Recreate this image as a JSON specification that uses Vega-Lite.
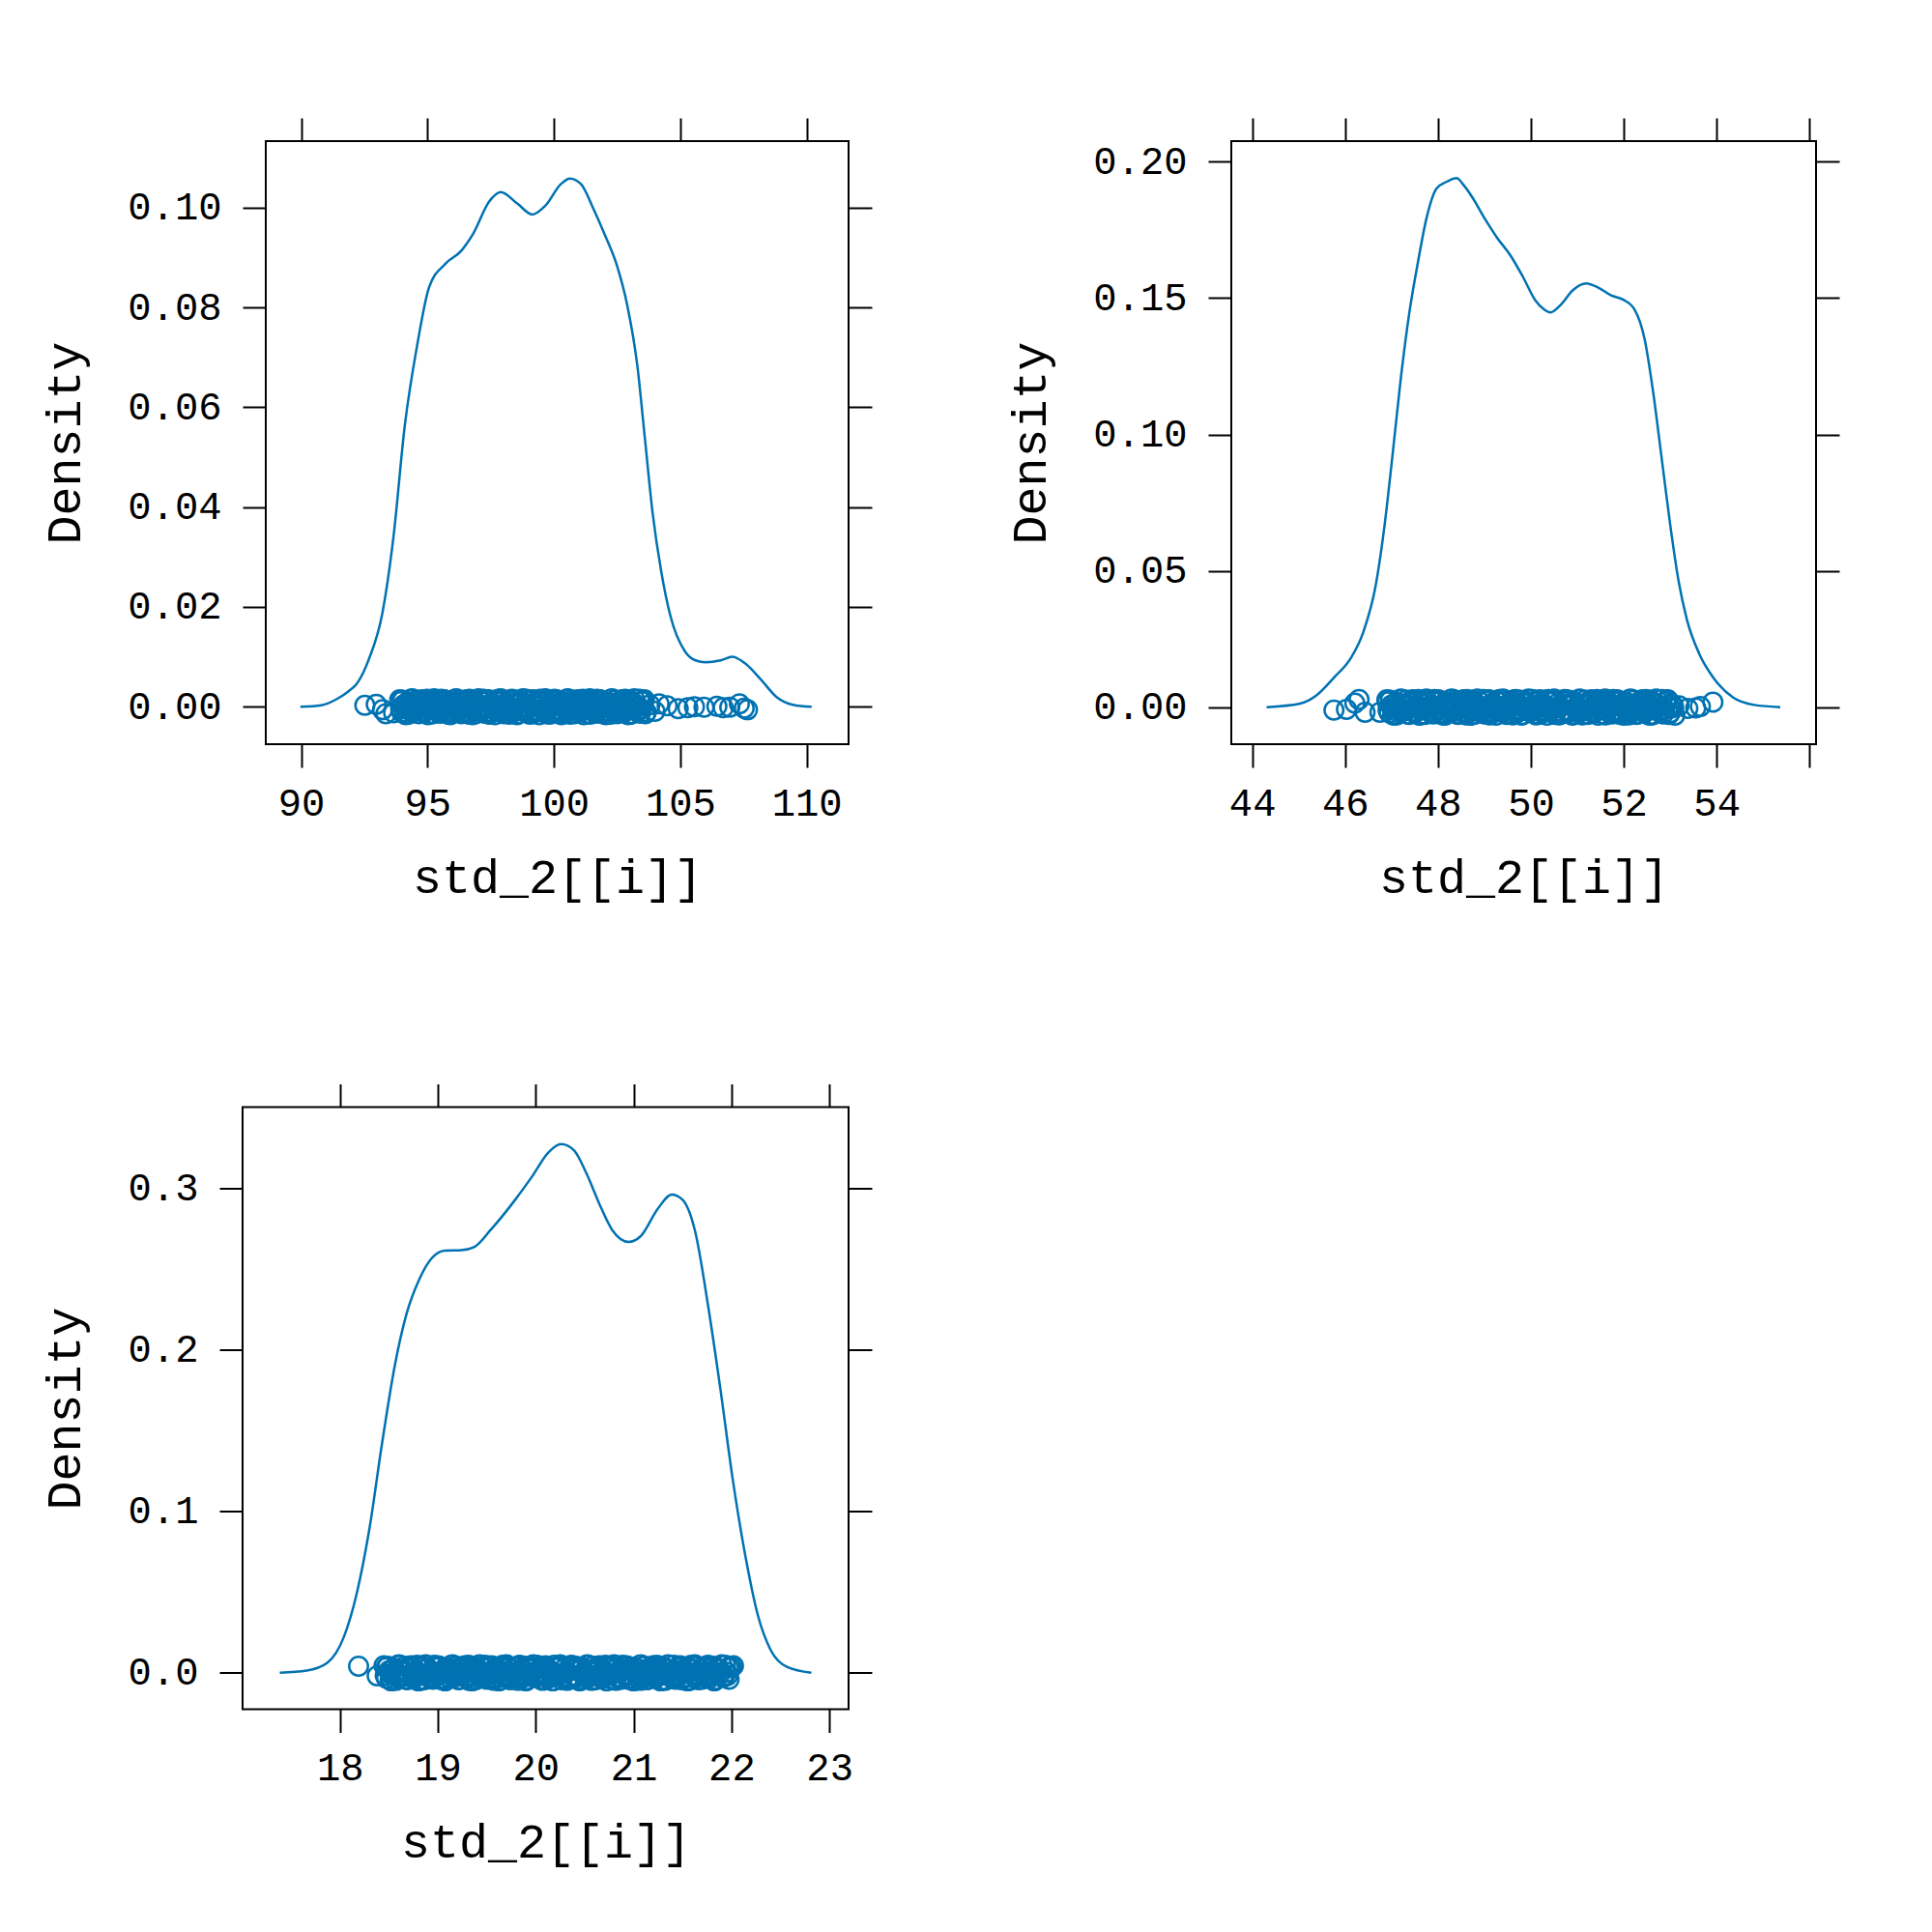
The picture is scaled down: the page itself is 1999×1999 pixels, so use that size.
{
  "$schema": "https://vega.github.io/schema/vega-lite/v6.json",
  "background": "white",
  "padding": {"left": 40, "top": 120, "right": 30, "bottom": 30},
  "config": {
    "view": {"stroke": "black", "strokeWidth": 2},
    "font": "Liberation Mono",
    "axis": {
      "domain": false, "grid": false, "tickColor": "black", "tickWidth": 2, "tickSize": 24,
      "labelFont": "Liberation Mono", "labelFontSize": 40.5, "labelColor": "black",
      "labelFlush": false, "labelOverlap": false, "labelBound": false,
      "titleFont": "Liberation Mono", "titleFontSize": 50, "titleFontWeight": "normal", "titleColor": "black"
    },
    "axisX": {"labelPadding": 17},
    "axisY": {"labelPadding": 22}
  },
  "datasets": {
    "d1": [
      {"x":89.97,"y":0},{"x":90.8,"y":0.0003},{"x":91.43,"y":0.0016},{"x":91.9,"y":0.0032},{"x":92.2,"y":0.0046},{"x":92.7,"y":0.0098},{"x":93.2,"y":0.0184},{"x":93.65,"y":0.0339},{"x":94.1,"y":0.0563},{"x":94.6,"y":0.0727},{"x":95.06,"y":0.084},{"x":95.7,"y":0.0887},{"x":96.33,"y":0.0913},{"x":96.8,"y":0.0947},{"x":97.44,"y":0.1012},{"x":97.9,"y":0.1031},{"x":98.55,"y":0.1008},{"x":99.15,"y":0.0986},{"x":99.65,"y":0.1003},{"x":100.28,"y":0.1047},{"x":100.63,"y":0.1058},{"x":101.07,"y":0.1047},{"x":101.55,"y":0.0999},{"x":102.0,"y":0.0947},{"x":102.5,"y":0.0883},{"x":102.9,"y":0.0805},{"x":103.3,"y":0.0684},{"x":103.6,"y":0.0538},{"x":103.9,"y":0.0391},{"x":104.25,"y":0.027},{"x":104.6,"y":0.0184},{"x":105.2,"y":0.011},{"x":105.6,"y":0.0093},{"x":106.0,"y":0.0089},{"x":106.6,"y":0.0093},{"x":107.06,"y":0.01},{"x":107.56,"y":0.0087},{"x":108.2,"y":0.0054},{"x":108.8,"y":0.002},{"x":109.46,"y":0.0004},{"x":110.2,"y":0}
    ],
    "r1": [
      {"x":92.52,"y":0.0003},{"x":92.97,"y":0.0005},{"x":93.22,"y":-0.0006},{"x":93.35,"y":-0.0014},{"x":93.66,"y":-0.0012},
      {"x":93.90,"y":0.0014},{"x":93.98,"y":-0.0011},{"x":94.06,"y":0.0004},{"x":94.14,"y":-0.0016},{"x":94.22,"y":0.0009},{"x":94.30,"y":-0.0004},{"x":94.38,"y":0.0016},{"x":94.46,"y":-0.0008},{"x":94.54,"y":0.0001},{"x":94.62,"y":-0.0013},{"x":94.70,"y":0.0011},
      {"x":94.78,"y":0.0014},{"x":94.86,"y":-0.0011},{"x":94.94,"y":0.0004},{"x":95.02,"y":-0.0016},{"x":95.10,"y":0.0009},{"x":95.18,"y":-0.0004},{"x":95.26,"y":0.0016},{"x":95.34,"y":-0.0008},{"x":95.42,"y":0.0001},{"x":95.50,"y":-0.0013},{"x":95.58,"y":0.0011},
      {"x":95.66,"y":0.0014},{"x":95.74,"y":-0.0011},{"x":95.82,"y":0.0004},{"x":95.90,"y":-0.0016},{"x":95.98,"y":0.0009},{"x":96.06,"y":-0.0004},{"x":96.14,"y":0.0016},{"x":96.22,"y":-0.0008},{"x":96.30,"y":0.0001},{"x":96.38,"y":-0.0013},{"x":96.46,"y":0.0011},
      {"x":96.54,"y":0.0014},{"x":96.62,"y":-0.0011},{"x":96.70,"y":0.0004},{"x":96.78,"y":-0.0016},{"x":96.86,"y":0.0009},{"x":96.94,"y":-0.0004},{"x":97.02,"y":0.0016},{"x":97.10,"y":-0.0008},{"x":97.18,"y":0.0001},{"x":97.26,"y":-0.0013},{"x":97.34,"y":0.0011},
      {"x":97.42,"y":0.0014},{"x":97.50,"y":-0.0011},{"x":97.58,"y":0.0004},{"x":97.66,"y":-0.0016},{"x":97.74,"y":0.0009},{"x":97.82,"y":-0.0004},{"x":97.90,"y":0.0016},{"x":97.98,"y":-0.0008},{"x":98.06,"y":0.0001},{"x":98.14,"y":-0.0013},{"x":98.22,"y":0.0011},
      {"x":98.30,"y":0.0014},{"x":98.38,"y":-0.0011},{"x":98.46,"y":0.0004},{"x":98.54,"y":-0.0016},{"x":98.62,"y":0.0009},{"x":98.70,"y":-0.0004},{"x":98.78,"y":0.0016},{"x":98.86,"y":-0.0008},{"x":98.94,"y":0.0001},{"x":99.02,"y":-0.0013},{"x":99.10,"y":0.0011},
      {"x":99.18,"y":0.0014},{"x":99.26,"y":-0.0011},{"x":99.34,"y":0.0004},{"x":99.42,"y":-0.0016},{"x":99.50,"y":0.0009},{"x":99.58,"y":-0.0004},{"x":99.66,"y":0.0016},{"x":99.74,"y":-0.0008},{"x":99.82,"y":0.0001},{"x":99.90,"y":-0.0013},{"x":99.98,"y":0.0011},
      {"x":100.06,"y":0.0014},{"x":100.14,"y":-0.0011},{"x":100.22,"y":0.0004},{"x":100.30,"y":-0.0016},{"x":100.38,"y":0.0009},{"x":100.46,"y":-0.0004},{"x":100.54,"y":0.0016},{"x":100.62,"y":-0.0008},{"x":100.70,"y":0.0001},{"x":100.78,"y":-0.0013},{"x":100.86,"y":0.0011},
      {"x":100.94,"y":0.0014},{"x":101.02,"y":-0.0011},{"x":101.10,"y":0.0004},{"x":101.18,"y":-0.0016},{"x":101.26,"y":0.0009},{"x":101.34,"y":-0.0004},{"x":101.42,"y":0.0016},{"x":101.50,"y":-0.0008},{"x":101.58,"y":0.0001},{"x":101.66,"y":-0.0013},{"x":101.74,"y":0.0011},
      {"x":101.82,"y":0.0014},{"x":101.90,"y":-0.0011},{"x":101.98,"y":0.0004},{"x":102.06,"y":-0.0016},{"x":102.14,"y":0.0009},{"x":102.22,"y":-0.0004},{"x":102.30,"y":0.0016},{"x":102.38,"y":-0.0008},{"x":102.46,"y":0.0001},{"x":102.54,"y":-0.0013},{"x":102.62,"y":0.0011},
      {"x":102.70,"y":0.0014},{"x":102.78,"y":-0.0011},{"x":102.86,"y":0.0004},{"x":102.94,"y":-0.0016},{"x":103.02,"y":0.0009},{"x":103.10,"y":-0.0004},{"x":103.18,"y":0.0016},{"x":103.26,"y":-0.0008},{"x":103.34,"y":0.0001},{"x":103.42,"y":-0.0013},{"x":103.50,"y":0.0011},
      {"x":103.58,"y":0.0014},{"x":103.66,"y":-0.0011},
      {"x":93.94,"y":-0.0005},{"x":94.02,"y":0.0013},{"x":94.10,"y":-0.0014},{"x":94.18,"y":0.0007},{"x":94.26,"y":0.0},{"x":94.34,"y":-0.0009},{"x":94.42,"y":0.0015},
      {"x":94.50,"y":-0.0005},{"x":94.58,"y":0.0013},{"x":94.66,"y":-0.0014},{"x":94.74,"y":0.0007},{"x":94.82,"y":0.0},{"x":94.90,"y":-0.0009},{"x":94.98,"y":0.0015},
      {"x":95.06,"y":-0.0005},{"x":95.14,"y":0.0013},{"x":95.22,"y":-0.0014},{"x":95.30,"y":0.0007},{"x":95.38,"y":0.0},{"x":95.46,"y":-0.0009},{"x":95.54,"y":0.0015},
      {"x":95.62,"y":-0.0005},{"x":95.70,"y":0.0013},{"x":95.78,"y":-0.0014},{"x":95.86,"y":0.0007},{"x":95.94,"y":0.0},{"x":96.02,"y":-0.0009},{"x":96.10,"y":0.0015},
      {"x":96.18,"y":-0.0005},{"x":96.26,"y":0.0013},{"x":96.34,"y":-0.0014},{"x":96.42,"y":0.0007},{"x":96.50,"y":0.0},{"x":96.58,"y":-0.0009},{"x":96.66,"y":0.0015},
      {"x":96.74,"y":-0.0005},{"x":96.82,"y":0.0013},{"x":96.90,"y":-0.0014},{"x":96.98,"y":0.0007},{"x":97.06,"y":0.0},{"x":97.14,"y":-0.0009},{"x":97.22,"y":0.0015},
      {"x":97.30,"y":-0.0005},{"x":97.38,"y":0.0013},{"x":97.46,"y":-0.0014},{"x":97.54,"y":0.0007},{"x":97.62,"y":0.0},{"x":97.70,"y":-0.0009},{"x":97.78,"y":0.0015},
      {"x":97.86,"y":-0.0005},{"x":97.94,"y":0.0013},{"x":98.02,"y":-0.0014},{"x":98.10,"y":0.0007},{"x":98.18,"y":0.0},{"x":98.26,"y":-0.0009},{"x":98.34,"y":0.0015},
      {"x":98.42,"y":-0.0005},{"x":98.50,"y":0.0013},{"x":98.58,"y":-0.0014},{"x":98.66,"y":0.0007},{"x":98.74,"y":0.0},{"x":98.82,"y":-0.0009},{"x":98.90,"y":0.0015},
      {"x":98.98,"y":-0.0005},{"x":99.06,"y":0.0013},{"x":99.14,"y":-0.0014},{"x":99.22,"y":0.0007},{"x":99.30,"y":0.0},{"x":99.38,"y":-0.0009},{"x":99.46,"y":0.0015},
      {"x":99.54,"y":-0.0005},{"x":99.62,"y":0.0013},{"x":99.70,"y":-0.0014},{"x":99.78,"y":0.0007},{"x":99.86,"y":0.0},{"x":99.94,"y":-0.0009},{"x":100.02,"y":0.0015},
      {"x":100.10,"y":-0.0005},{"x":100.18,"y":0.0013},{"x":100.26,"y":-0.0014},{"x":100.34,"y":0.0007},{"x":100.42,"y":0.0},{"x":100.50,"y":-0.0009},{"x":100.58,"y":0.0015},
      {"x":100.66,"y":-0.0005},{"x":100.74,"y":0.0013},{"x":100.82,"y":-0.0014},{"x":100.90,"y":0.0007},{"x":100.98,"y":0.0},{"x":101.06,"y":-0.0009},{"x":101.14,"y":0.0015},
      {"x":101.22,"y":-0.0005},{"x":101.30,"y":0.0013},{"x":101.38,"y":-0.0014},{"x":101.46,"y":0.0007},{"x":101.54,"y":0.0},{"x":101.62,"y":-0.0009},{"x":101.70,"y":0.0015},
      {"x":101.78,"y":-0.0005},{"x":101.86,"y":0.0013},{"x":101.94,"y":-0.0014},{"x":102.02,"y":0.0007},{"x":102.10,"y":0.0},{"x":102.18,"y":-0.0009},{"x":102.26,"y":0.0015},
      {"x":102.34,"y":-0.0005},{"x":102.42,"y":0.0013},{"x":102.50,"y":-0.0014},{"x":102.58,"y":0.0007},{"x":102.66,"y":0.0},{"x":102.74,"y":-0.0009},{"x":102.82,"y":0.0015},
      {"x":102.90,"y":-0.0005},{"x":102.98,"y":0.0013},{"x":103.06,"y":-0.0014},{"x":103.14,"y":0.0007},{"x":103.22,"y":0.0},{"x":103.30,"y":-0.0009},{"x":103.38,"y":0.0015},
      {"x":103.46,"y":-0.0005},{"x":103.54,"y":0.0013},{"x":103.62,"y":-0.0014},
      {"x":93.92,"y":0.001},{"x":94.08,"y":-0.0002},{"x":94.24,"y":-0.0015},{"x":94.40,"y":0.0006},{"x":94.56,"y":-0.0007},
      {"x":94.72,"y":0.001},{"x":94.88,"y":-0.0002},{"x":95.04,"y":-0.0015},{"x":95.20,"y":0.0006},{"x":95.36,"y":-0.0007},
      {"x":95.52,"y":0.001},{"x":95.68,"y":-0.0002},{"x":95.84,"y":-0.0015},{"x":96.00,"y":0.0006},{"x":96.16,"y":-0.0007},
      {"x":96.32,"y":0.001},{"x":96.48,"y":-0.0002},{"x":96.64,"y":-0.0015},{"x":96.80,"y":0.0006},{"x":96.96,"y":-0.0007},
      {"x":97.12,"y":0.001},{"x":97.28,"y":-0.0002},{"x":97.44,"y":-0.0015},{"x":97.60,"y":0.0006},{"x":97.76,"y":-0.0007},
      {"x":97.92,"y":0.001},{"x":98.08,"y":-0.0002},{"x":98.24,"y":-0.0015},{"x":98.40,"y":0.0006},{"x":98.56,"y":-0.0007},
      {"x":98.72,"y":0.001},{"x":98.88,"y":-0.0002},{"x":99.04,"y":-0.0015},{"x":99.20,"y":0.0006},{"x":99.36,"y":-0.0007},
      {"x":99.52,"y":0.001},{"x":99.68,"y":-0.0002},{"x":99.84,"y":-0.0015},{"x":100.00,"y":0.0006},{"x":100.16,"y":-0.0007},
      {"x":100.32,"y":0.001},{"x":100.48,"y":-0.0002},{"x":100.64,"y":-0.0015},{"x":100.80,"y":0.0006},{"x":100.96,"y":-0.0007},
      {"x":101.12,"y":0.001},{"x":101.28,"y":-0.0002},{"x":101.44,"y":-0.0015},{"x":101.60,"y":0.0006},{"x":101.76,"y":-0.0007},
      {"x":101.92,"y":0.001},{"x":102.08,"y":-0.0002},{"x":102.24,"y":-0.0015},{"x":102.40,"y":0.0006},{"x":102.56,"y":-0.0007},
      {"x":102.72,"y":0.001},{"x":102.88,"y":-0.0002},{"x":103.04,"y":-0.0015},{"x":103.20,"y":0.0006},{"x":103.36,"y":-0.0007},
      {"x":103.52,"y":0.001},
      {"x":103.8,"y":0.0004},{"x":104.0,"y":-0.0009},{"x":104.16,"y":0.0006},{"x":104.48,"y":0.0002},{"x":104.92,"y":-0.0004},{"x":105.3,"y":-0.0002},{"x":105.56,"y":0.0},{"x":105.94,"y":-0.0001},{"x":106.45,"y":0.0001},{"x":106.7,"y":-0.0002},{"x":106.96,"y":-0.0001},{"x":107.34,"y":0.0006},{"x":107.53,"y":-0.0003},{"x":107.66,"y":-0.0006}
    ],
    "d2": [
      {"x":44.31,"y":0},{"x":45.03,"y":0.0013},{"x":45.39,"y":0.0044},{"x":45.76,"y":0.0108},{"x":46.12,"y":0.0179},{"x":46.39,"y":0.0274},{"x":46.66,"y":0.0447},{"x":46.84,"y":0.0653},{"x":47.02,"y":0.0922},{"x":47.2,"y":0.1206},{"x":47.38,"y":0.1443},{"x":47.57,"y":0.1633},{"x":47.75,"y":0.1791},{"x":47.97,"y":0.1902},{"x":48.2,"y":0.1928},{"x":48.4,"y":0.194},{"x":48.55,"y":0.1915},{"x":48.75,"y":0.1867},{"x":49.01,"y":0.1791},{"x":49.28,"y":0.172},{"x":49.56,"y":0.1657},{"x":49.83,"y":0.1578},{"x":50.1,"y":0.1491},{"x":50.28,"y":0.1459},{"x":50.42,"y":0.1448},{"x":50.64,"y":0.1475},{"x":50.91,"y":0.153},{"x":51.19,"y":0.1554},{"x":51.46,"y":0.1538},{"x":51.73,"y":0.151},{"x":51.99,"y":0.1494},{"x":52.23,"y":0.1459},{"x":52.45,"y":0.1349},{"x":52.63,"y":0.1159},{"x":52.81,"y":0.0922},{"x":53.0,"y":0.0669},{"x":53.18,"y":0.0463},{"x":53.36,"y":0.0321},{"x":53.63,"y":0.0194},{"x":53.9,"y":0.0115},{"x":54.35,"y":0.0036},{"x":54.81,"y":0.0008},{"x":55.37,"y":0}
    ],
    "r2": [
      {"x":45.76,"y":-0.0011},{"x":46.03,"y":-0.0008},{"x":46.21,"y":0.0015},{"x":46.3,"y":0.0028},{"x":46.43,"y":-0.0019},{"x":46.75,"y":-0.0019},
      {"x":46.90,"y":0.0027},{"x":46.95,"y":-0.0021},{"x":47.00,"y":0.0008},{"x":47.05,"y":-0.003},{"x":47.10,"y":0.0017},{"x":47.15,"y":-0.0008},{"x":47.20,"y":0.003},{"x":47.25,"y":-0.0015},{"x":47.30,"y":0.0002},{"x":47.35,"y":-0.0025},{"x":47.40,"y":0.0021},
      {"x":47.45,"y":0.0027},{"x":47.50,"y":-0.0021},{"x":47.55,"y":0.0008},{"x":47.60,"y":-0.003},{"x":47.65,"y":0.0017},{"x":47.70,"y":-0.0008},{"x":47.75,"y":0.003},{"x":47.80,"y":-0.0015},{"x":47.85,"y":0.0002},{"x":47.90,"y":-0.0025},{"x":47.95,"y":0.0021},
      {"x":48.00,"y":0.0027},{"x":48.05,"y":-0.0021},{"x":48.10,"y":0.0008},{"x":48.15,"y":-0.003},{"x":48.20,"y":0.0017},{"x":48.25,"y":-0.0008},{"x":48.30,"y":0.003},{"x":48.35,"y":-0.0015},{"x":48.40,"y":0.0002},{"x":48.45,"y":-0.0025},{"x":48.50,"y":0.0021},
      {"x":48.55,"y":0.0027},{"x":48.60,"y":-0.0021},{"x":48.65,"y":0.0008},{"x":48.70,"y":-0.003},{"x":48.75,"y":0.0017},{"x":48.80,"y":-0.0008},{"x":48.85,"y":0.003},{"x":48.90,"y":-0.0015},{"x":48.95,"y":0.0002},{"x":49.00,"y":-0.0025},{"x":49.05,"y":0.0021},
      {"x":49.10,"y":0.0027},{"x":49.15,"y":-0.0021},{"x":49.20,"y":0.0008},{"x":49.25,"y":-0.003},{"x":49.30,"y":0.0017},{"x":49.35,"y":-0.0008},{"x":49.40,"y":0.003},{"x":49.45,"y":-0.0015},{"x":49.50,"y":0.0002},{"x":49.55,"y":-0.0025},{"x":49.60,"y":0.0021},
      {"x":49.65,"y":0.0027},{"x":49.70,"y":-0.0021},{"x":49.75,"y":0.0008},{"x":49.80,"y":-0.003},{"x":49.85,"y":0.0017},{"x":49.90,"y":-0.0008},{"x":49.95,"y":0.003},{"x":50.00,"y":-0.0015},{"x":50.05,"y":0.0002},{"x":50.10,"y":-0.0025},{"x":50.15,"y":0.0021},
      {"x":50.20,"y":0.0027},{"x":50.25,"y":-0.0021},{"x":50.30,"y":0.0008},{"x":50.35,"y":-0.003},{"x":50.40,"y":0.0017},{"x":50.45,"y":-0.0008},{"x":50.50,"y":0.003},{"x":50.55,"y":-0.0015},{"x":50.60,"y":0.0002},{"x":50.65,"y":-0.0025},{"x":50.70,"y":0.0021},
      {"x":50.75,"y":0.0027},{"x":50.80,"y":-0.0021},{"x":50.85,"y":0.0008},{"x":50.90,"y":-0.003},{"x":50.95,"y":0.0017},{"x":51.00,"y":-0.0008},{"x":51.05,"y":0.003},{"x":51.10,"y":-0.0015},{"x":51.15,"y":0.0002},{"x":51.20,"y":-0.0025},{"x":51.25,"y":0.0021},
      {"x":51.30,"y":0.0027},{"x":51.35,"y":-0.0021},{"x":51.40,"y":0.0008},{"x":51.45,"y":-0.003},{"x":51.50,"y":0.0017},{"x":51.55,"y":-0.0008},{"x":51.60,"y":0.003},{"x":51.65,"y":-0.0015},{"x":51.70,"y":0.0002},{"x":51.75,"y":-0.0025},{"x":51.80,"y":0.0021},
      {"x":51.85,"y":0.0027},{"x":51.90,"y":-0.0021},{"x":51.95,"y":0.0008},{"x":52.00,"y":-0.003},{"x":52.05,"y":0.0017},{"x":52.10,"y":-0.0008},{"x":52.15,"y":0.003},{"x":52.20,"y":-0.0015},{"x":52.25,"y":0.0002},{"x":52.30,"y":-0.0025},{"x":52.35,"y":0.0021},
      {"x":52.40,"y":0.0027},{"x":52.45,"y":-0.0021},{"x":52.50,"y":0.0008},{"x":52.55,"y":-0.003},{"x":52.60,"y":0.0017},{"x":52.65,"y":-0.0008},{"x":52.70,"y":0.003},{"x":52.75,"y":-0.0015},{"x":52.80,"y":0.0002},{"x":52.85,"y":-0.0025},{"x":52.90,"y":0.0021},
      {"x":52.95,"y":0.0027},{"x":53.00,"y":-0.0021},{"x":53.05,"y":0.0008},{"x":53.10,"y":-0.003},
      {"x":46.925,"y":-0.001},{"x":46.975,"y":0.0025},{"x":47.025,"y":-0.0027},{"x":47.075,"y":0.0013},{"x":47.125,"y":0.0},{"x":47.175,"y":-0.0017},{"x":47.225,"y":0.0028},
      {"x":47.275,"y":-0.001},{"x":47.325,"y":0.0025},{"x":47.375,"y":-0.0027},{"x":47.425,"y":0.0013},{"x":47.475,"y":0.0},{"x":47.525,"y":-0.0017},{"x":47.575,"y":0.0028},
      {"x":47.625,"y":-0.001},{"x":47.675,"y":0.0025},{"x":47.725,"y":-0.0027},{"x":47.775,"y":0.0013},{"x":47.825,"y":0.0},{"x":47.875,"y":-0.0017},{"x":47.925,"y":0.0028},
      {"x":47.975,"y":-0.001},{"x":48.025,"y":0.0025},{"x":48.075,"y":-0.0027},{"x":48.125,"y":0.0013},{"x":48.175,"y":0.0},{"x":48.225,"y":-0.0017},{"x":48.275,"y":0.0028},
      {"x":48.325,"y":-0.001},{"x":48.375,"y":0.0025},{"x":48.425,"y":-0.0027},{"x":48.475,"y":0.0013},{"x":48.525,"y":0.0},{"x":48.575,"y":-0.0017},{"x":48.625,"y":0.0028},
      {"x":48.675,"y":-0.001},{"x":48.725,"y":0.0025},{"x":48.775,"y":-0.0027},{"x":48.825,"y":0.0013},{"x":48.875,"y":0.0},{"x":48.925,"y":-0.0017},{"x":48.975,"y":0.0028},
      {"x":49.025,"y":-0.001},{"x":49.075,"y":0.0025},{"x":49.125,"y":-0.0027},{"x":49.175,"y":0.0013},{"x":49.225,"y":0.0},{"x":49.275,"y":-0.0017},{"x":49.325,"y":0.0028},
      {"x":49.375,"y":-0.001},{"x":49.425,"y":0.0025},{"x":49.475,"y":-0.0027},{"x":49.525,"y":0.0013},{"x":49.575,"y":0.0},{"x":49.625,"y":-0.0017},{"x":49.675,"y":0.0028},
      {"x":49.725,"y":-0.001},{"x":49.775,"y":0.0025},{"x":49.825,"y":-0.0027},{"x":49.875,"y":0.0013},{"x":49.925,"y":0.0},{"x":49.975,"y":-0.0017},{"x":50.025,"y":0.0028},
      {"x":50.075,"y":-0.001},{"x":50.125,"y":0.0025},{"x":50.175,"y":-0.0027},{"x":50.225,"y":0.0013},{"x":50.275,"y":0.0},{"x":50.325,"y":-0.0017},{"x":50.375,"y":0.0028},
      {"x":50.425,"y":-0.001},{"x":50.475,"y":0.0025},{"x":50.525,"y":-0.0027},{"x":50.575,"y":0.0013},{"x":50.625,"y":0.0},{"x":50.675,"y":-0.0017},{"x":50.725,"y":0.0028},
      {"x":50.775,"y":-0.001},{"x":50.825,"y":0.0025},{"x":50.875,"y":-0.0027},{"x":50.925,"y":0.0013},{"x":50.975,"y":0.0},{"x":51.025,"y":-0.0017},{"x":51.075,"y":0.0028},
      {"x":51.125,"y":-0.001},{"x":51.175,"y":0.0025},{"x":51.225,"y":-0.0027},{"x":51.275,"y":0.0013},{"x":51.325,"y":0.0},{"x":51.375,"y":-0.0017},{"x":51.425,"y":0.0028},
      {"x":51.475,"y":-0.001},{"x":51.525,"y":0.0025},{"x":51.575,"y":-0.0027},{"x":51.625,"y":0.0013},{"x":51.675,"y":0.0},{"x":51.725,"y":-0.0017},{"x":51.775,"y":0.0028},
      {"x":51.825,"y":-0.001},{"x":51.875,"y":0.0025},{"x":51.925,"y":-0.0027},{"x":51.975,"y":0.0013},{"x":52.025,"y":0.0},{"x":52.075,"y":-0.0017},{"x":52.125,"y":0.0028},
      {"x":52.175,"y":-0.001},{"x":52.225,"y":0.0025},{"x":52.275,"y":-0.0027},{"x":52.325,"y":0.0013},{"x":52.375,"y":0.0},{"x":52.425,"y":-0.0017},{"x":52.475,"y":0.0028},
      {"x":52.525,"y":-0.001},{"x":52.575,"y":0.0025},{"x":52.625,"y":-0.0027},{"x":52.675,"y":0.0013},{"x":52.725,"y":0.0},{"x":52.775,"y":-0.0017},{"x":52.825,"y":0.0028},
      {"x":52.875,"y":-0.001},{"x":52.925,"y":0.0025},{"x":52.975,"y":-0.0027},{"x":53.025,"y":0.0013},{"x":53.075,"y":0.0},
      {"x":46.91,"y":0.0019},{"x":47.01,"y":-0.0004},{"x":47.11,"y":-0.0029},{"x":47.21,"y":0.0011},{"x":47.31,"y":-0.0013},
      {"x":47.41,"y":0.0019},{"x":47.51,"y":-0.0004},{"x":47.61,"y":-0.0029},{"x":47.71,"y":0.0011},{"x":47.81,"y":-0.0013},
      {"x":47.91,"y":0.0019},{"x":48.01,"y":-0.0004},{"x":48.11,"y":-0.0029},{"x":48.21,"y":0.0011},{"x":48.31,"y":-0.0013},
      {"x":48.41,"y":0.0019},{"x":48.51,"y":-0.0004},{"x":48.61,"y":-0.0029},{"x":48.71,"y":0.0011},{"x":48.81,"y":-0.0013},
      {"x":48.91,"y":0.0019},{"x":49.01,"y":-0.0004},{"x":49.11,"y":-0.0029},{"x":49.21,"y":0.0011},{"x":49.31,"y":-0.0013},
      {"x":49.41,"y":0.0019},{"x":49.51,"y":-0.0004},{"x":49.61,"y":-0.0029},{"x":49.71,"y":0.0011},{"x":49.81,"y":-0.0013},
      {"x":49.91,"y":0.0019},{"x":50.01,"y":-0.0004},{"x":50.11,"y":-0.0029},{"x":50.21,"y":0.0011},{"x":50.31,"y":-0.0013},
      {"x":50.41,"y":0.0019},{"x":50.51,"y":-0.0004},{"x":50.61,"y":-0.0029},{"x":50.71,"y":0.0011},{"x":50.81,"y":-0.0013},
      {"x":50.91,"y":0.0019},{"x":51.01,"y":-0.0004},{"x":51.11,"y":-0.0029},{"x":51.21,"y":0.0011},{"x":51.31,"y":-0.0013},
      {"x":51.41,"y":0.0019},{"x":51.51,"y":-0.0004},{"x":51.61,"y":-0.0029},{"x":51.71,"y":0.0011},{"x":51.81,"y":-0.0013},
      {"x":51.91,"y":0.0019},{"x":52.01,"y":-0.0004},{"x":52.11,"y":-0.0029},{"x":52.21,"y":0.0011},{"x":52.31,"y":-0.0013},
      {"x":52.41,"y":0.0019},{"x":52.51,"y":-0.0004},{"x":52.61,"y":-0.0029},{"x":52.71,"y":0.0011},{"x":52.81,"y":-0.0013},
      {"x":52.91,"y":0.0019},{"x":53.01,"y":-0.0004},
      {"x":53.19,"y":0.0005},{"x":53.38,"y":-0.0005},{"x":53.55,"y":-0.0003},{"x":53.65,"y":0.0002},{"x":53.92,"y":0.0018}
    ],
    "d3": [
      {"x":17.385,"y":0},{"x":17.66,"y":0.0013},{"x":17.87,"y":0.0061},{"x":18.04,"y":0.0222},{"x":18.17,"y":0.0488},{"x":18.3,"y":0.0889},{"x":18.43,"y":0.1422},{"x":18.56,"y":0.1903},{"x":18.68,"y":0.2223},{"x":18.81,"y":0.2437},{"x":18.94,"y":0.257},{"x":19.07,"y":0.2615},{"x":19.24,"y":0.2618},{"x":19.37,"y":0.2637},{"x":19.54,"y":0.2744},{"x":19.79,"y":0.293},{"x":19.96,"y":0.3072},{"x":20.13,"y":0.3224},{"x":20.26,"y":0.3275},{"x":20.39,"y":0.3237},{"x":20.52,"y":0.3091},{"x":20.65,"y":0.2904},{"x":20.78,"y":0.2744},{"x":20.95,"y":0.2669},{"x":21.07,"y":0.2703},{"x":21.25,"y":0.2877},{"x":21.39,"y":0.2962},{"x":21.5,"y":0.293},{"x":21.63,"y":0.273},{"x":21.76,"y":0.2277},{"x":21.89,"y":0.1743},{"x":22.01,"y":0.1209},{"x":22.14,"y":0.0729},{"x":22.27,"y":0.0355},{"x":22.4,"y":0.0141},{"x":22.57,"y":0.0035},{"x":22.816,"y":0}
    ],
    "r3": [
      {"x":18.19,"y":0.004},{"x":18.38,"y":-0.0019},
      {"x":18.450,"y":0.0043},{"x":18.475,"y":-0.0034},{"x":18.500,"y":0.0012},{"x":18.525,"y":-0.005},{"x":18.550,"y":0.0028},{"x":18.575,"y":-0.0012},{"x":18.600,"y":0.005},{"x":18.625,"y":-0.0025},{"x":18.650,"y":0.0003},{"x":18.675,"y":-0.004},{"x":18.700,"y":0.0034},
      {"x":18.725,"y":0.0043},{"x":18.750,"y":-0.0034},{"x":18.775,"y":0.0012},{"x":18.800,"y":-0.005},{"x":18.825,"y":0.0028},{"x":18.850,"y":-0.0012},{"x":18.875,"y":0.005},{"x":18.900,"y":-0.0025},{"x":18.925,"y":0.0003},{"x":18.950,"y":-0.004},{"x":18.975,"y":0.0034},
      {"x":19.000,"y":0.0043},{"x":19.025,"y":-0.0034},{"x":19.050,"y":0.0012},{"x":19.075,"y":-0.005},{"x":19.100,"y":0.0028},{"x":19.125,"y":-0.0012},{"x":19.150,"y":0.005},{"x":19.175,"y":-0.0025},{"x":19.200,"y":0.0003},{"x":19.225,"y":-0.004},{"x":19.250,"y":0.0034},
      {"x":19.275,"y":0.0043},{"x":19.300,"y":-0.0034},{"x":19.325,"y":0.0012},{"x":19.350,"y":-0.005},{"x":19.375,"y":0.0028},{"x":19.400,"y":-0.0012},{"x":19.425,"y":0.005},{"x":19.450,"y":-0.0025},{"x":19.475,"y":0.0003},{"x":19.500,"y":-0.004},{"x":19.525,"y":0.0034},
      {"x":19.550,"y":0.0043},{"x":19.575,"y":-0.0034},{"x":19.600,"y":0.0012},{"x":19.625,"y":-0.005},{"x":19.650,"y":0.0028},{"x":19.675,"y":-0.0012},{"x":19.700,"y":0.005},{"x":19.725,"y":-0.0025},{"x":19.750,"y":0.0003},{"x":19.775,"y":-0.004},{"x":19.800,"y":0.0034},
      {"x":19.825,"y":0.0043},{"x":19.850,"y":-0.0034},{"x":19.875,"y":0.0012},{"x":19.900,"y":-0.005},{"x":19.925,"y":0.0028},{"x":19.950,"y":-0.0012},{"x":19.975,"y":0.005},{"x":20.000,"y":-0.0025},{"x":20.025,"y":0.0003},{"x":20.050,"y":-0.004},{"x":20.075,"y":0.0034},
      {"x":20.100,"y":0.0043},{"x":20.125,"y":-0.0034},{"x":20.150,"y":0.0012},{"x":20.175,"y":-0.005},{"x":20.200,"y":0.0028},{"x":20.225,"y":-0.0012},{"x":20.250,"y":0.005},{"x":20.275,"y":-0.0025},{"x":20.300,"y":0.0003},{"x":20.325,"y":-0.004},{"x":20.350,"y":0.0034},
      {"x":20.375,"y":0.0043},{"x":20.400,"y":-0.0034},{"x":20.425,"y":0.0012},{"x":20.450,"y":-0.005},{"x":20.475,"y":0.0028},{"x":20.500,"y":-0.0012},{"x":20.525,"y":0.005},{"x":20.550,"y":-0.0025},{"x":20.575,"y":0.0003},{"x":20.600,"y":-0.004},{"x":20.625,"y":0.0034},
      {"x":20.650,"y":0.0043},{"x":20.675,"y":-0.0034},{"x":20.700,"y":0.0012},{"x":20.725,"y":-0.005},{"x":20.750,"y":0.0028},{"x":20.775,"y":-0.0012},{"x":20.800,"y":0.005},{"x":20.825,"y":-0.0025},{"x":20.850,"y":0.0003},{"x":20.875,"y":-0.004},{"x":20.900,"y":0.0034},
      {"x":20.925,"y":0.0043},{"x":20.950,"y":-0.0034},{"x":20.975,"y":0.0012},{"x":21.000,"y":-0.005},{"x":21.025,"y":0.0028},{"x":21.050,"y":-0.0012},{"x":21.075,"y":0.005},{"x":21.100,"y":-0.0025},{"x":21.125,"y":0.0003},{"x":21.150,"y":-0.004},{"x":21.175,"y":0.0034},
      {"x":21.200,"y":0.0043},{"x":21.225,"y":-0.0034},{"x":21.250,"y":0.0012},{"x":21.275,"y":-0.005},{"x":21.300,"y":0.0028},{"x":21.325,"y":-0.0012},{"x":21.350,"y":0.005},{"x":21.375,"y":-0.0025},{"x":21.400,"y":0.0003},{"x":21.425,"y":-0.004},{"x":21.450,"y":0.0034},
      {"x":21.475,"y":0.0043},{"x":21.500,"y":-0.0034},{"x":21.525,"y":0.0012},{"x":21.550,"y":-0.005},{"x":21.575,"y":0.0028},{"x":21.600,"y":-0.0012},{"x":21.625,"y":0.005},{"x":21.650,"y":-0.0025},{"x":21.675,"y":0.0003},{"x":21.700,"y":-0.004},{"x":21.725,"y":0.0034},
      {"x":21.750,"y":0.0043},{"x":21.775,"y":-0.0034},{"x":21.800,"y":0.0012},{"x":21.825,"y":-0.005},{"x":21.850,"y":0.0028},{"x":21.875,"y":-0.0012},{"x":21.900,"y":0.005},{"x":21.925,"y":-0.0025},{"x":21.950,"y":0.0003},{"x":21.975,"y":-0.004},{"x":22.000,"y":0.0034},
      {"x":22.020,"y":0.0043},
      {"x":18.4625,"y":-0.0016},{"x":18.4875,"y":0.004},{"x":18.5125,"y":-0.0043},{"x":18.5375,"y":0.0022},{"x":18.5625,"y":0.0},{"x":18.5875,"y":-0.0028},{"x":18.6125,"y":0.0047},
      {"x":18.6375,"y":-0.0016},{"x":18.6625,"y":0.004},{"x":18.6875,"y":-0.0043},{"x":18.7125,"y":0.0022},{"x":18.7375,"y":0.0},{"x":18.7625,"y":-0.0028},{"x":18.7875,"y":0.0047},
      {"x":18.8125,"y":-0.0016},{"x":18.8375,"y":0.004},{"x":18.8625,"y":-0.0043},{"x":18.8875,"y":0.0022},{"x":18.9125,"y":0.0},{"x":18.9375,"y":-0.0028},{"x":18.9625,"y":0.0047},
      {"x":18.9875,"y":-0.0016},{"x":19.0125,"y":0.004},{"x":19.0375,"y":-0.0043},{"x":19.0625,"y":0.0022},{"x":19.0875,"y":0.0},{"x":19.1125,"y":-0.0028},{"x":19.1375,"y":0.0047},
      {"x":19.1625,"y":-0.0016},{"x":19.1875,"y":0.004},{"x":19.2125,"y":-0.0043},{"x":19.2375,"y":0.0022},{"x":19.2625,"y":0.0},{"x":19.2875,"y":-0.0028},{"x":19.3125,"y":0.0047},
      {"x":19.3375,"y":-0.0016},{"x":19.3625,"y":0.004},{"x":19.3875,"y":-0.0043},{"x":19.4125,"y":0.0022},{"x":19.4375,"y":0.0},{"x":19.4625,"y":-0.0028},{"x":19.4875,"y":0.0047},
      {"x":19.5125,"y":-0.0016},{"x":19.5375,"y":0.004},{"x":19.5625,"y":-0.0043},{"x":19.5875,"y":0.0022},{"x":19.6125,"y":0.0},{"x":19.6375,"y":-0.0028},{"x":19.6625,"y":0.0047},
      {"x":19.6875,"y":-0.0016},{"x":19.7125,"y":0.004},{"x":19.7375,"y":-0.0043},{"x":19.7625,"y":0.0022},{"x":19.7875,"y":0.0},{"x":19.8125,"y":-0.0028},{"x":19.8375,"y":0.0047},
      {"x":19.8625,"y":-0.0016},{"x":19.8875,"y":0.004},{"x":19.9125,"y":-0.0043},{"x":19.9375,"y":0.0022},{"x":19.9625,"y":0.0},{"x":19.9875,"y":-0.0028},{"x":20.0125,"y":0.0047},
      {"x":20.0375,"y":-0.0016},{"x":20.0625,"y":0.004},{"x":20.0875,"y":-0.0043},{"x":20.1125,"y":0.0022},{"x":20.1375,"y":0.0},{"x":20.1625,"y":-0.0028},{"x":20.1875,"y":0.0047},
      {"x":20.2125,"y":-0.0016},{"x":20.2375,"y":0.004},{"x":20.2625,"y":-0.0043},{"x":20.2875,"y":0.0022},{"x":20.3125,"y":0.0},{"x":20.3375,"y":-0.0028},{"x":20.3625,"y":0.0047},
      {"x":20.3875,"y":-0.0016},{"x":20.4125,"y":0.004},{"x":20.4375,"y":-0.0043},{"x":20.4625,"y":0.0022},{"x":20.4875,"y":0.0},{"x":20.5125,"y":-0.0028},{"x":20.5375,"y":0.0047},
      {"x":20.5625,"y":-0.0016},{"x":20.5875,"y":0.004},{"x":20.6125,"y":-0.0043},{"x":20.6375,"y":0.0022},{"x":20.6625,"y":0.0},{"x":20.6875,"y":-0.0028},{"x":20.7125,"y":0.0047},
      {"x":20.7375,"y":-0.0016},{"x":20.7625,"y":0.004},{"x":20.7875,"y":-0.0043},{"x":20.8125,"y":0.0022},{"x":20.8375,"y":0.0},{"x":20.8625,"y":-0.0028},{"x":20.8875,"y":0.0047},
      {"x":20.9125,"y":-0.0016},{"x":20.9375,"y":0.004},{"x":20.9625,"y":-0.0043},{"x":20.9875,"y":0.0022},{"x":21.0125,"y":0.0},{"x":21.0375,"y":-0.0028},{"x":21.0625,"y":0.0047},
      {"x":21.0875,"y":-0.0016},{"x":21.1125,"y":0.004},{"x":21.1375,"y":-0.0043},{"x":21.1625,"y":0.0022},{"x":21.1875,"y":0.0},{"x":21.2125,"y":-0.0028},{"x":21.2375,"y":0.0047},
      {"x":21.2625,"y":-0.0016},{"x":21.2875,"y":0.004},{"x":21.3125,"y":-0.0043},{"x":21.3375,"y":0.0022},{"x":21.3625,"y":0.0},{"x":21.3875,"y":-0.0028},{"x":21.4125,"y":0.0047},
      {"x":21.4375,"y":-0.0016},{"x":21.4625,"y":0.004},{"x":21.4875,"y":-0.0043},{"x":21.5125,"y":0.0022},{"x":21.5375,"y":0.0},{"x":21.5625,"y":-0.0028},{"x":21.5875,"y":0.0047},
      {"x":21.6125,"y":-0.0016},{"x":21.6375,"y":0.004},{"x":21.6625,"y":-0.0043},{"x":21.6875,"y":0.0022},{"x":21.7125,"y":0.0},{"x":21.7375,"y":-0.0028},{"x":21.7625,"y":0.0047},
      {"x":21.7875,"y":-0.0016},{"x":21.8125,"y":0.004},{"x":21.8375,"y":-0.0043},{"x":21.8625,"y":0.0022},{"x":21.8875,"y":0.0},{"x":21.9125,"y":-0.0028},{"x":21.9375,"y":0.0047},
      {"x":21.9625,"y":-0.0016},{"x":21.9875,"y":0.004},
      {"x":18.47,"y":0.0031},{"x":18.52,"y":-0.0006},{"x":18.57,"y":-0.0047},{"x":18.62,"y":0.0019},{"x":18.67,"y":-0.0022},
      {"x":18.72,"y":0.0031},{"x":18.77,"y":-0.0006},{"x":18.82,"y":-0.0047},{"x":18.87,"y":0.0019},{"x":18.92,"y":-0.0022},
      {"x":18.97,"y":0.0031},{"x":19.02,"y":-0.0006},{"x":19.07,"y":-0.0047},{"x":19.12,"y":0.0019},{"x":19.17,"y":-0.0022},
      {"x":19.22,"y":0.0031},{"x":19.27,"y":-0.0006},{"x":19.32,"y":-0.0047},{"x":19.37,"y":0.0019},{"x":19.42,"y":-0.0022},
      {"x":19.47,"y":0.0031},{"x":19.52,"y":-0.0006},{"x":19.57,"y":-0.0047},{"x":19.62,"y":0.0019},{"x":19.67,"y":-0.0022},
      {"x":19.72,"y":0.0031},{"x":19.77,"y":-0.0006},{"x":19.82,"y":-0.0047},{"x":19.87,"y":0.0019},{"x":19.92,"y":-0.0022},
      {"x":19.97,"y":0.0031},{"x":20.02,"y":-0.0006},{"x":20.07,"y":-0.0047},{"x":20.12,"y":0.0019},{"x":20.17,"y":-0.0022},
      {"x":20.22,"y":0.0031},{"x":20.27,"y":-0.0006},{"x":20.32,"y":-0.0047},{"x":20.37,"y":0.0019},{"x":20.42,"y":-0.0022},
      {"x":20.47,"y":0.0031},{"x":20.52,"y":-0.0006},{"x":20.57,"y":-0.0047},{"x":20.62,"y":0.0019},{"x":20.67,"y":-0.0022},
      {"x":20.72,"y":0.0031},{"x":20.77,"y":-0.0006},{"x":20.82,"y":-0.0047},{"x":20.87,"y":0.0019},{"x":20.92,"y":-0.0022},
      {"x":20.97,"y":0.0031},{"x":21.02,"y":-0.0006},{"x":21.07,"y":-0.0047},{"x":21.12,"y":0.0019},{"x":21.17,"y":-0.0022},
      {"x":21.22,"y":0.0031},{"x":21.27,"y":-0.0006},{"x":21.32,"y":-0.0047},{"x":21.37,"y":0.0019},{"x":21.42,"y":-0.0022},
      {"x":21.47,"y":0.0031},{"x":21.52,"y":-0.0006},{"x":21.57,"y":-0.0047},{"x":21.62,"y":0.0019},{"x":21.67,"y":-0.0022},
      {"x":21.72,"y":0.0031},{"x":21.77,"y":-0.0006},{"x":21.82,"y":-0.0047},{"x":21.87,"y":0.0019},{"x":21.92,"y":-0.0022},
      {"x":21.97,"y":0.0031}
    ]
  },
  "spacing": 185.5,
  "vconcat": [
    {
      "spacing": 136,
      "hconcat": [
        {
          "spacing": 0,
          "hconcat": [
            {"width": 1, "height": 1, "view": {"stroke": null}, "data": {"values": []}, "mark": {"type": "point", "opacity": 0}},
            {
              "width": 603, "height": 624,
              "resolve": {"axis": {"x": "independent", "y": "independent"}},
              "layer": [
                {
                  "data": {"name": "d1"},
                  "mark": {"type": "line", "color": "#0072B2", "strokeWidth": 2.5, "interpolate": "monotone"},
                  "encoding": {
                    "x": {"field": "x", "type": "quantitative", "scale": {"domain": [88.6, 111.66], "nice": false, "zero": false},
                          "axis": {"orient": "bottom", "values": [90, 95, 100, 105, 110], "format": "d", "title": "std_2[[i]]", "titleBaseline": "alphabetic", "titleY": 153}},
                    "y": {"field": "y", "type": "quantitative", "scale": {"domain": [-0.0075, 0.1133], "nice": false, "zero": false},
                          "axis": {"orient": "left", "values": [0, 0.02, 0.04, 0.06, 0.08, 0.1], "format": ".2f", "title": "Density", "titleBaseline": "alphabetic", "titleX": -193}}
                  }
                },
                {
                  "data": {"name": "r1"},
                  "mark": {"type": "point", "shape": "circle", "filled": false, "color": "#0072B2", "size": 380, "strokeWidth": 2.5, "opacity": 1},
                  "encoding": {
                    "x": {"field": "x", "type": "quantitative", "scale": {"domain": [88.6, 111.66], "nice": false, "zero": false},
                          "axis": {"orient": "top", "values": [90, 95, 100, 105, 110], "labels": false, "title": null}},
                    "y": {"field": "y", "type": "quantitative", "scale": {"domain": [-0.0075, 0.1133], "nice": false, "zero": false},
                          "axis": {"orient": "right", "values": [0, 0.02, 0.04, 0.06, 0.08, 0.1], "labels": false, "title": null}}
                  }
                }
              ]
            }
          ]
        },
        {
          "width": 605, "height": 624,
          "resolve": {"axis": {"x": "independent", "y": "independent"}},
          "layer": [
            {
              "data": {"name": "d2"},
              "mark": {"type": "line", "color": "#0072B2", "strokeWidth": 2.5, "interpolate": "monotone"},
              "encoding": {
                "x": {"field": "x", "type": "quantitative", "scale": {"domain": [43.55, 56.14], "nice": false, "zero": false},
                      "axis": {"orient": "bottom", "values": [44, 46, 48, 50, 52, 54, 56], "format": "d", "labelExpr": "datum.value == 56 ? '' : datum.label", "title": "std_2[[i]]", "titleBaseline": "alphabetic", "titleY": 153}},
                "y": {"field": "y", "type": "quantitative", "scale": {"domain": [-0.0136, 0.2076], "nice": false, "zero": false},
                      "axis": {"orient": "left", "values": [0, 0.05, 0.1, 0.15, 0.2], "format": ".2f", "title": "Density", "titleBaseline": "alphabetic", "titleX": -193}}
              }
            },
            {
              "data": {"name": "r2"},
              "mark": {"type": "point", "shape": "circle", "filled": false, "color": "#0072B2", "size": 380, "strokeWidth": 2.5, "opacity": 1},
              "encoding": {
                "x": {"field": "x", "type": "quantitative", "scale": {"domain": [43.55, 56.14], "nice": false, "zero": false},
                      "axis": {"orient": "top", "values": [44, 46, 48, 50, 52, 54, 56], "labels": false, "title": null}},
                "y": {"field": "y", "type": "quantitative", "scale": {"domain": [-0.0136, 0.2076], "nice": false, "zero": false},
                      "axis": {"orient": "right", "values": [0, 0.05, 0.1, 0.15, 0.2], "labels": false, "title": null}}
              }
            }
          ]
        }
      ]
    },
    {
      "spacing": 0,
      "hconcat": [
        {"width": 1, "height": 1, "view": {"stroke": null}, "data": {"values": []}, "mark": {"type": "point", "opacity": 0}},
        {
          "width": 627, "height": 623,
          "resolve": {"axis": {"x": "independent", "y": "independent"}},
          "layer": [
            {
              "data": {"name": "d3"},
              "mark": {"type": "line", "color": "#0072B2", "strokeWidth": 2.5, "interpolate": "monotone"},
              "encoding": {
                "x": {"field": "x", "type": "quantitative", "scale": {"domain": [17.005, 23.196], "nice": false, "zero": false},
                      "axis": {"orient": "bottom", "values": [18, 19, 20, 21, 22, 23], "format": "d", "title": "std_2[[i]]", "titleBaseline": "alphabetic", "titleY": 153}},
                "y": {"field": "y", "type": "quantitative", "scale": {"domain": [-0.0226, 0.3504], "nice": false, "zero": false},
                      "axis": {"orient": "left", "values": [0, 0.1, 0.2, 0.3], "format": ".1f", "title": "Density", "titleBaseline": "alphabetic", "titleX": -169}}
              }
            },
            {
              "data": {"name": "r3"},
              "mark": {"type": "point", "shape": "circle", "filled": false, "color": "#0072B2", "size": 380, "strokeWidth": 2.5, "opacity": 1},
              "encoding": {
                "x": {"field": "x", "type": "quantitative", "scale": {"domain": [17.005, 23.196], "nice": false, "zero": false},
                      "axis": {"orient": "top", "values": [18, 19, 20, 21, 22, 23], "labels": false, "title": null}},
                "y": {"field": "y", "type": "quantitative", "scale": {"domain": [-0.0226, 0.3504], "nice": false, "zero": false},
                      "axis": {"orient": "right", "values": [0, 0.1, 0.2, 0.3], "labels": false, "title": null}}
              }
            }
          ]
        }
      ]
    }
  ]
}
